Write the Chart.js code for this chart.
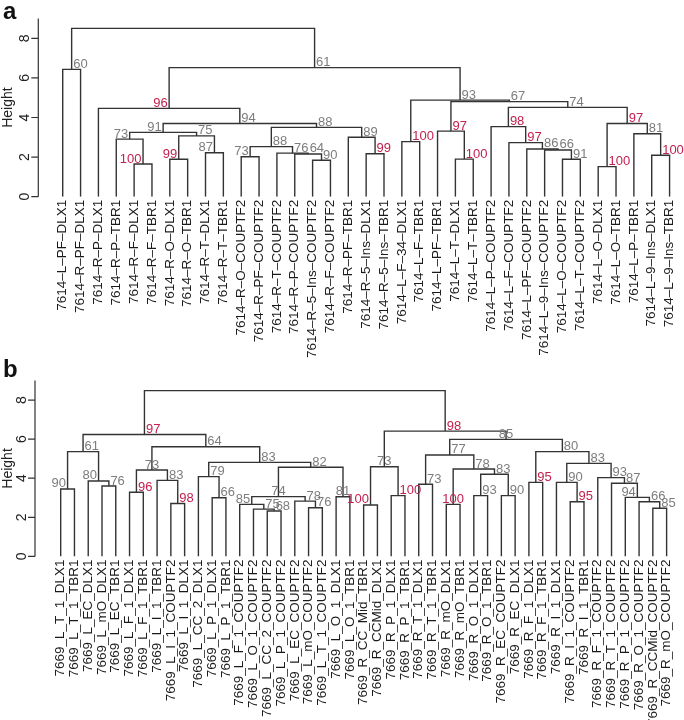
<!DOCTYPE html>
<html>
<head>
<meta charset="utf-8">
<script src="https://cdn.jsdelivr.net/npm/chart.js@4.4.1/dist/chart.umd.min.js"></script>
<style>
body { margin: 0; background: #fff; }
#wrap { position: relative; width: 684px; height: 720px; }
canvas { position: absolute; left: 0; }
</style>
</head>
<body>
<div id="wrap">
<canvas id="cA" width="684" height="372" style="top:0"></canvas>
<canvas id="cB" width="684" height="362" style="top:358px"></canvas>
</div>
<script>
// panel a: leaf order, merges (R hclust style: -n = leaf n, k = earlier merge k), heights, bootstrap
const leavesA = [
    "7614-L-PF-DLX1", "7614-R-PF-DLX1", "7614-R-P-DLX1", "7614-R-P-TBR1", "7614-R-F-DLX1",
    "7614-R-F-TBR1", "7614-R-O-DLX1", "7614-R-O-TBR1", "7614-R-T-DLX1", "7614-R-T-TBR1",
    "7614-R-O-COUPTF2", "7614-R-PF-COUPTF2", "7614-R-T-COUPTF2", "7614-R-P-COUPTF2", "7614-R-5-Ins-COUPTF2",
    "7614-R-F-COUPTF2", "7614-R-PF-TBR1", "7614-R-5-Ins-DLX1", "7614-R-5-Ins-TBR1", "7614-L-F-34-DLX1",
    "7614-L-F-TBR1", "7614-L-PF-TBR1", "7614-L-T-DLX1", "7614-L-T-TBR1", "7614-L-P-COUPTF2",
    "7614-L-F-COUPTF2", "7614-L-PF-COUPTF2", "7614-L-9-Ins-COUPTF2", "7614-L-O-COUPTF2", "7614-L-T-COUPTF2",
    "7614-L-O-DLX1", "7614-L-O-TBR1", "7614-L-P-TBR1", "7614-L-9-Ins-DLX1", "7614-L-9-Ins-TBR1"
];
const mergeA = [
    [-1, -2], [-5, -6], [-4, 2], [-7, -8], [-9, -10], [4, 5], [3, 6], [-11, -12], [-15, -16], [-14, 9],
    [-13, 10], [8, 11], [-18, -19], [-17, 13], [12, 14], [7, 15], [-3, 16], [-20, -21], [-23, -24], [-22, 19],
    [-29, -30], [-28, 21], [-27, 22], [-26, 23], [-25, 24], [-31, -32], [-34, -35], [-33, 27], [26, 28], [25, 29],
    [20, 30], [18, 31], [17, 32], [1, 33]
];
const heightA = [
    6.43, 1.65, 2.91, 1.89, 2.22, 3.07, 3.25, 2.02, 1.84, 2.16,
    2.2, 2.53, 2.17, 3.0, 3.5, 3.7, 4.46, 2.78, 1.9, 3.31,
    1.89, 2.36, 2.41, 2.73, 3.54, 1.52, 2.09, 3.18, 3.7, 4.51,
    4.8, 4.88, 6.52, 8.5
];
const bootA = [
    60, 100, 73, 99, 87, 75, 91, 73, 90, 64,
    76, 88, 99, 89, 88, 94, 96, 100, 100, 97,
    91, 66, 86, 97, 98, 100, 100, 81, 97, 74,
    67, 93, 61, null
];

// panel b
const leavesB = [
    "7669_L_T_1_DLX1", "7669_L_T_1_TBR1", "7669_L_EC_DLX1", "7669_L_mO_DLX1", "7669_L_EC_TBR1",
    "7669_L_F_1_DLX1", "7669_L_F_1_TBR1", "7669_L_I_1_TBR1", "7669_L_I_1_COUPTF2", "7669_L_I_1_DLX1",
    "7669_L_CC_2_DLX1", "7669_L_P_1_DLX1", "7669_L_P_1_TBR1", "7669_L_F_1_COUPTF2", "7669_L_O_1_COUPTF2",
    "7669_L_CC_2_COUPTF2", "7669_L_P_1_COUPTF2", "7669_L_EC_COUPTF2", "7669_L_mO_COUPTF2", "7669_L_T_1_COUPTF2",
    "7669_L_O_1_DLX1", "7669_L_O_1_TBR1", "7669_R_CC_Mid_TBR1", "7669_R_CCMid_DLX1", "7669_R_P_1_DLX1",
    "7669_R_P_1_TBR1", "7669_R_T_1_DLX1", "7669_R_T_1_TBR1", "7669_R_mO_DLX1", "7669_R_mO_TBR1",
    "7669_R_O_1_DLX1", "7669_R_O_1_TBR1", "7669_R_EC_COUPTF2", "7669_R_EC_DLX1", "7669_R_F_1_DLX1",
    "7669_R_F_1_TBR1", "7669_R_I_1_DLX1", "7669_R_I_1_COUPTF2", "7669_R_I_1_TBR1", "7669_R_F_1_COUPTF2",
    "7669_R_T_1_COUPTF2", "7669_R_P_1_COUPTF2", "7669_R_O_1_COUPTF2", "7669_R_CCMid_COUPTF2", "7669_R_mO_COUPTF2"
];
const mergeB = [
    [-1, -2], [-4, -5], [-3, 2], [1, 3], [-6, -7], [-9, -10], [-8, 6], [5, 7], [-12, -13], [-11, 9],
    [-16, -17], [-15, 11], [-14, 12], [-19, -20], [-18, 14], [13, 15], [-21, -22], [16, 17], [10, 18], [8, 19],
    [4, 20], [-23, -24], [-25, -26], [22, 23], [-27, -28], [-29, -30], [-31, -32], [-33, -34], [27, 28], [26, 29],
    [25, 30], [-35, -36], [-38, -39], [-37, 33], [-44, -45], [-43, 35], [-42, 36], [-41, 37], [-40, 38], [34, 39],
    [32, 40], [31, 41], [24, 42], [21, 43]
];
const heightB = [
    3.45, 3.6, 3.86, 5.36, 3.28, 2.71, 3.89, 4.42, 3.0, 4.08,
    2.32, 2.42, 2.66, 2.49, 2.83, 3.06, 3.05, 4.56, 4.81, 5.61,
    6.24, 2.63, 3.11, 4.59, 3.69, 2.66, 3.11, 3.11, 4.2, 4.47,
    5.19, 3.79, 2.8, 3.79, 2.46, 2.8, 3.02, 3.74, 4.03, 4.76,
    5.36, 5.99, 6.41, 8.48
];
const bootB = [
    90, 76, 80, 61, 96, 98, 83, 73, 66, 79,
    68, 75, 85, 76, 78, 74, 81, 82, 83, 64,
    97, 100, 100, 73, 73, 100, 93, 90, 83, 78,
    77, 95, 95, 90, 85, 66, 94, 87, 93, 83,
    80, 85, 98, null
];

const yTicks = [0, 2, 4, 6, 8];

// where each bootstrap number sits next to its node (L = left of node, R = right, C = centred)
const sideA = "RLLLLRLLRRRRRRRRLRRRRRRRRRRRRRRRRR";
const sideB = "LRLRRRRCRRRRLRRCCRRRRLRCRCRRRRRRRRRRLRRRRCRR";

const FONT = '"Liberation Sans", Arial, sans-serif';
const RED = '#c4204f';
const GREY = '#7d7d7d';


function tree(merge, height) {
    const nodes = [];
    const at = r => r < 0 ? { x: -r, h: 0 } : nodes[r - 1];
    merge.forEach((m, i) => {
        const a = at(m[0]), b = at(m[1]);
        nodes.push({ x: (a.x + b.x) / 2, h: height[i], a: a, b: b });
    });
    return nodes;
}


const dendro = {
    id: 'dendro',
    afterDraw(chart, args, o) {
        const c = chart.ctx;
        const xs = chart.scales.x, ys = chart.scales.y;
        const y0 = ys.getPixelForValue(0);
        c.save();

        // R-style y axis
        c.strokeStyle = '#333';
        c.lineWidth = 1.2;
        c.beginPath();
        c.moveTo(o.axisX, y0);
        c.lineTo(o.axisX, ys.getPixelForValue(ys.max));
        yTicks.forEach(t => {
            const y = ys.getPixelForValue(t);
            c.moveTo(o.axisX, y);
            c.lineTo(o.axisX - 7, y);
        });
        c.stroke();

        c.fillStyle = '#222';
        c.font = '14px ' + FONT;
        c.textAlign = 'center';
        c.textBaseline = 'middle';
        yTicks.forEach(t => {
            c.save();
            c.translate(o.axisX - 13, ys.getPixelForValue(t));
            c.rotate(-Math.PI / 2);
            c.fillText(String(t), 0, 0);
            c.restore();
        });
        c.save();
        c.translate(8.5, (y0 + ys.getPixelForValue(ys.max)) / 2);
        c.rotate(-Math.PI / 2);
        c.fillText('Height', 0, 0);
        c.restore();

        // panel letter
        c.font = 'bold 24px ' + FONT;
        c.textAlign = 'left';
        c.textBaseline = 'alphabetic';
        c.fillStyle = '#111';
        c.fillText(o.letter, 3, o.letterY);

        // bootstrap values
        c.font = '13px ' + FONT;
        o.nodes.forEach((n, i) => {
            const v = o.boot[i];
            if (v == null) return;
            const x = xs.getPixelForValue(n.x), y = ys.getPixelForValue(n.h);
            const s = o.side[i];
            c.fillStyle = v >= 95 ? RED : GREY;
            c.textAlign = s === 'L' ? 'right' : s === 'C' ? 'center' : 'left';
            c.fillText(String(v), s === 'L' ? x - 1.5 : s === 'C' ? x : x + 1.5, y - 1.5);
        });
        c.restore();
    }
};


function draw(id, leaves, merge, height, boot, side, cfg) {
    const nodes = tree(merge, height);
    const sets = nodes.map(n => ({
        data: [
            { x: n.a.x, y: n.a.h }, { x: n.a.x, y: n.h },
            { x: n.b.x, y: n.h }, { x: n.b.x, y: n.b.h }
        ],
        borderColor: '#333',
        borderWidth: 1.4,
        pointRadius: 0,
        tension: 0,
        fill: false
    }));

    new Chart(document.getElementById(id), {
        type: 'line',
        data: { datasets: sets },
        plugins: [dendro],
        options: {
            responsive: false,
            animation: false,
            layout: { padding: { left: cfg.left, right: cfg.right, top: cfg.top, bottom: 0 } },
            plugins: {
                legend: { display: false },
                tooltip: { enabled: false },
                dendro: { nodes: nodes, boot: boot, side: side, axisX: cfg.axisX, letter: cfg.letter, letterY: cfg.letterY }
            },
            scales: {
                x: {
                    type: 'linear',
                    min: 0.5,
                    max: leaves.length + 0.5,
                    grid: { display: false, drawTicks: false },
                    border: { display: false },
                    afterBuildTicks: s => { s.ticks = leaves.map((l, i) => ({ value: i + 1 })); },
                    afterFit: s => { s.height = cfg.xh; s.paddingLeft = 0; s.paddingRight = 0; },
                    ticks: {
                        autoSkip: false,
                        minRotation: 90,
                        maxRotation: 90,
                        padding: 3,
                        color: '#1a1a1a',
                        font: { family: FONT, size: cfg.fs },
                        // R's device draws the hyphen as a long dash
                        callback: v => leaves[v - 1].replace(/-/g, '\u2013')
                    }
                },
                y: {
                    type: 'linear',
                    display: false,
                    min: 0,
                    max: 9
                }
            }
        }
    });
}


draw('cA', leavesA, mergeA, heightA, bootA, sideA,
    { left: 53.8, right: 5.5, top: 18.5, xh: 175.3, fs: 13.5, axisX: 38.3, letter: 'a', letterY: 19 });
draw('cB', leavesB, mergeB, heightB, bootB, sideB,
    { left: 53.8, right: 10.5, top: 22.5, xh: 163.6, fs: 13.5, axisX: 35, letter: 'b', letterY: 19 });
</script>
</body>
</html>
